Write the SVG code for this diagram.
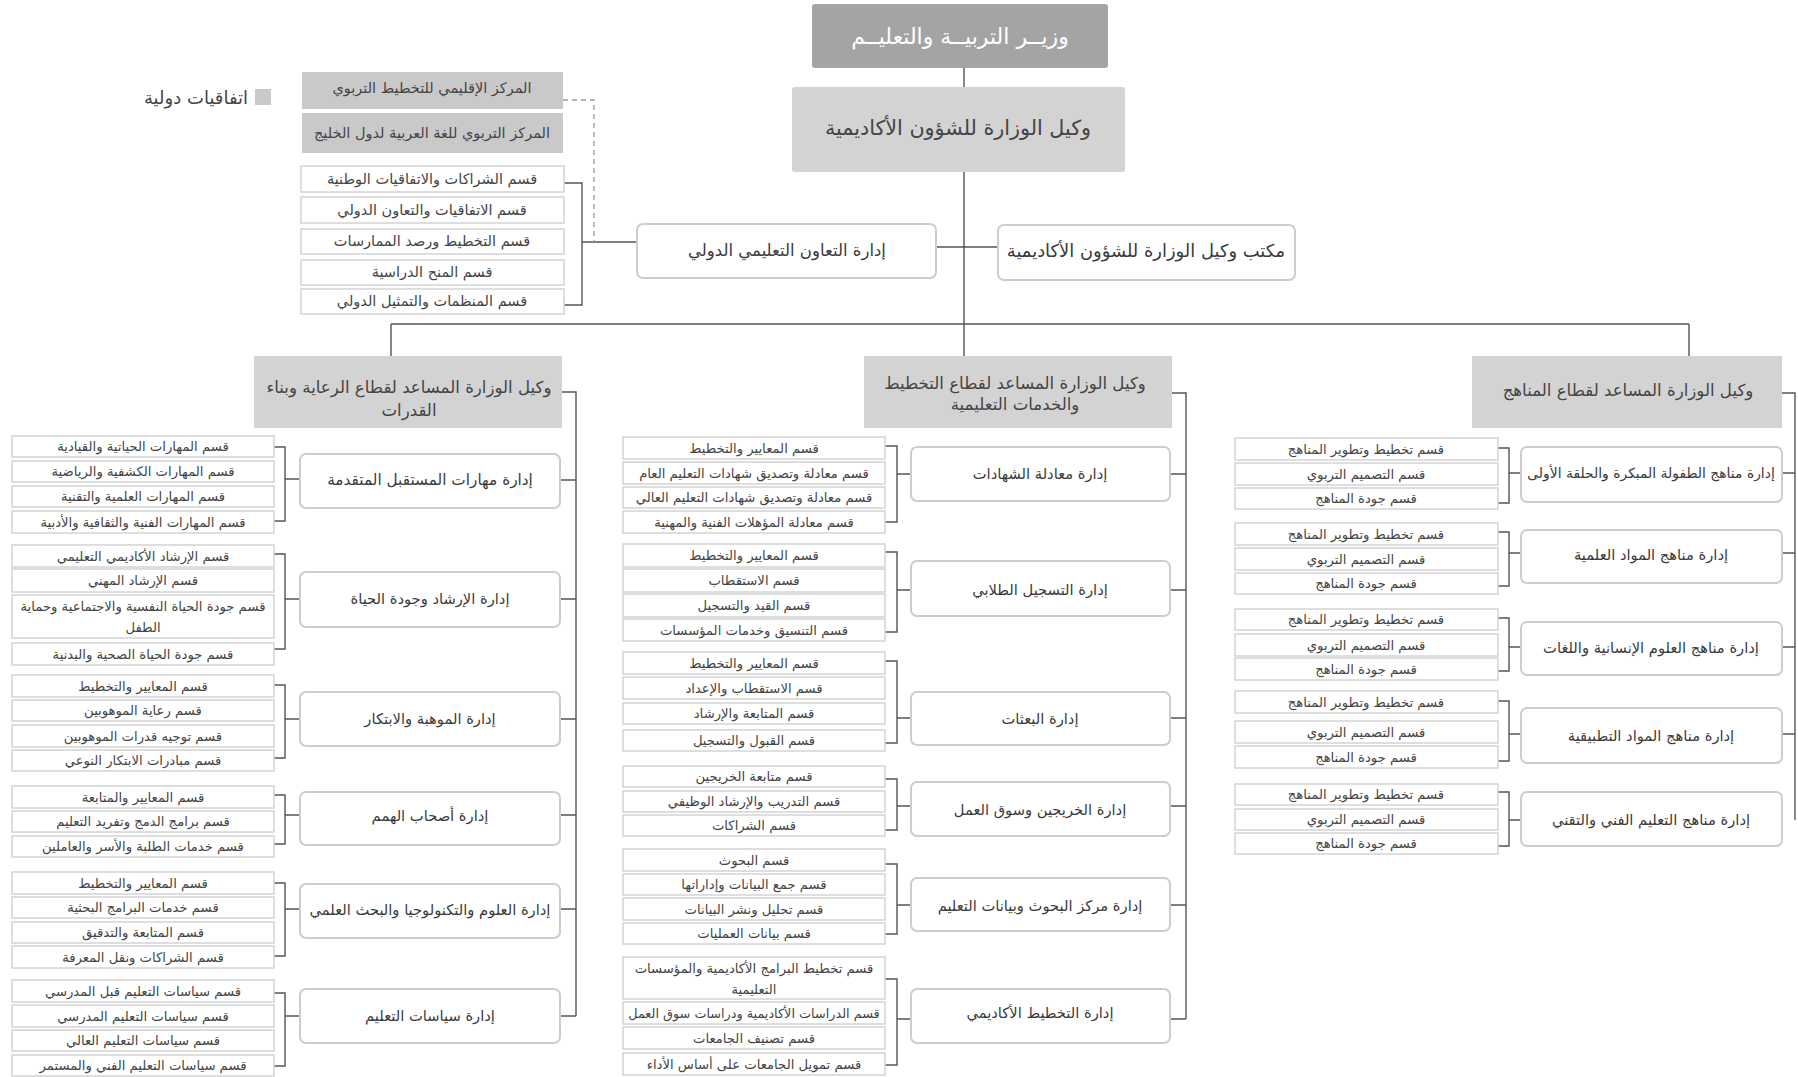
<svg xmlns="http://www.w3.org/2000/svg" width="1798" height="1077" viewBox="0 0 1798 1077">
<style>
text{font-family:"DejaVu Sans","Noto Sans",sans-serif;text-anchor:middle;dominant-baseline:central;direction:rtl}
.sec rect{fill:#fff;stroke:#d4d4d4;stroke-width:1.5}
.sec text{font-size:13.2px;fill:#444}
.coop text{font-size:14.5px}
.dir rect{fill:#fff;stroke:#cdcdcd;stroke-width:2}
.dir text{font-size:14.7px;fill:#3a3a3a}
.mid text{font-size:16.5px;fill:#3a3a3a}
.sect rect{fill:#d3d3d3}
.sect text{font-size:16.6px;fill:#444}
.intl rect{fill:#c9c9c9}
.intl text{font-size:14.5px;fill:#444}
.conn{fill:none;stroke:#555;stroke-width:1.4}
.dash{fill:none;stroke:#9a9a9a;stroke-width:1.3;stroke-dasharray:5 4}
</style>

<g id="connectors">
<path class="conn" d="M964 68V87M964 172V356M391 324H1689M391 324V356M1689 324V356M936 247H998M637 242H582M564 183H582V305H564"/>
<path class="dash" d="M563 100H594V242"/>
<path class="conn" d="M562 392H576V1016M560 480H576M560 599H576M560 719H576M560 815H576M560 909H576M560 1016H576
M274 447H285V521H274M285 479H300
M274 554H285V649H274M285 599H300
M274 685H285V758H274M285 719H300
M274 795H285V844H274M285 815H300
M274 883H285V956H274M285 909H300
M274 993H285V1066H274M285 1016H300"/>
<path class="conn" d="M1172 393H1186V1019M1170 474H1186M1170 590H1186M1170 718H1186M1170 806H1186M1170 905H1186M1170 1019H1186
M885 446H897V522H885M897 474H911
M885 552H897V632H885M897 590H911
M885 661H897V743H885M897 718H911
M885 779H897V830H885M897 806H911
M885 864H897V934H885M897 905H911
M885 979H897V1065H885M897 1019H911"/>
<path class="conn" d="M1782 393H1795V820M1782 473H1795M1782 553H1795M1782 647H1795M1782 734H1795
M1498 448H1509V503H1498M1509 473H1521
M1498 532H1509V586H1498M1509 553H1521
M1498 618H1509V671H1498M1509 647H1521
M1498 701H1509V761H1498M1509 734H1521
M1498 792H1509V846H1498M1509 820H1521"/>
</g>

<g id="minister"><rect x="812" y="4" width="296" height="64" rx="3" fill="#a4a4a4"/><text x="960" y="36" font-size="22" fill="#fff">وزيــر التربيــة والتعليــم</text></g>
<g id="deputy"><rect x="792" y="87" width="333" height="85" rx="3" fill="#d3d3d3"/><text x="958" y="128" font-size="20.7" fill="#444">وكيل الوزارة للشؤون الأكاديمية</text></g>
<g id="intl-coop" class="dir mid"><rect x="637" y="224" width="299" height="54" rx="6"/><text x="787" y="250" style="font-size:16.5px">إدارة التعاون التعليمي الدولي</text></g>
<g id="office" class="dir mid"><rect x="998" y="225" width="297" height="55" rx="6"/><text x="1146" y="250" style="font-size:17.9px">مكتب وكيل الوزارة للشؤون الأكاديمية</text></g>

<g id="legend"><rect x="255" y="89" width="16" height="16" fill="#c9c9c9"/><text x="196" y="97" font-size="18" fill="#444">اتفاقيات دولية</text></g>
<g id="intl1" class="intl"><rect x="302" y="72" width="261" height="37"/><text x="432" y="88">المركز الإقليمي للتخطيط التربوي</text></g>
<g id="intl2" class="intl"><rect x="302" y="113" width="261" height="40"/><text x="432" y="133">المركز التربوي للغة العربية لدول الخليج</text></g>

<g class="sec coop">
<g id="c1"><rect x="301" y="166" width="263" height="26"/><text x="432" y="179">قسم الشراكات والاتفاقيات الوطنية</text></g>
<g id="c2"><rect x="301" y="197" width="263" height="26"/><text x="432" y="210">قسم الاتفاقيات والتعاون الدولي</text></g>
<g id="c3"><rect x="301" y="229" width="263" height="25"/><text x="432" y="241">قسم التخطيط ورصد الممارسات</text></g>
<g id="c4"><rect x="301" y="260" width="263" height="25"/><text x="432" y="272">قسم المنح الدراسية</text></g>
<g id="c5"><rect x="301" y="289" width="263" height="25"/><text x="432" y="301">قسم المنظمات والتمثيل الدولي</text></g>
</g>

<g id="sector-care" class="sect"><rect x="254" y="356" width="308" height="72"/><text x="409" y="387">وكيل الوزارة المساعد لقطاع الرعاية وبناء</text><text x="409" y="410">القدرات</text></g>
<g id="sector-plan" class="sect"><rect x="864" y="356" width="308" height="72"/><text x="1015" y="383">وكيل الوزارة المساعد لقطاع التخطيط</text><text x="1015" y="404">والخدمات التعليمية</text></g>
<g id="sector-curr" class="sect"><rect x="1472" y="356" width="310" height="72"/><text x="1628" y="390">وكيل الوزارة المساعد لقطاع المناهج</text></g>

<g class="dir">
<g id="L1"><rect x="300" y="454" width="260" height="54" rx="6"/><text x="430" y="480" style="font-size:15.3px">إدارة مهارات المستقبل المتقدمة</text></g>
<g id="L2"><rect x="300" y="572" width="260" height="55" rx="6"/><text x="430" y="598">إدارة الإرشاد وجودة الحياة</text></g>
<g id="L3"><rect x="300" y="692" width="260" height="54" rx="6"/><text x="430" y="718">إدارة الموهبة والابتكار</text></g>
<g id="L4"><rect x="300" y="792" width="260" height="53" rx="6"/><text x="430" y="815">إدارة أصحاب الهمم</text></g>
<g id="L5"><rect x="300" y="884" width="260" height="54" rx="6"/><text x="430" y="909">إدارة العلوم والتكنولوجيا والبحث العلمي</text></g>
<g id="L6"><rect x="300" y="989" width="260" height="54" rx="6"/><text x="430" y="1015">إدارة سياسات التعليم</text></g>
</g>
<g class="sec">
<g id="L1a"><rect x="12" y="436" width="262" height="21"/><text x="143" y="446">قسم المهارات الحياتية والقيادية</text></g>
<g id="L1b"><rect x="12" y="461" width="262" height="21"/><text x="143" y="471">قسم المهارات الكشفية والرياضية</text></g>
<g id="L1c"><rect x="12" y="486" width="262" height="21"/><text x="143" y="496">قسم المهارات  العلمية والتقنية</text></g>
<g id="L1d"><rect x="12" y="511" width="262" height="22"/><text x="143" y="522">قسم المهارات الفنية والثقافية والأدبية</text></g>
<g id="L2a"><rect x="12" y="545" width="262" height="22"/><text x="143" y="556">قسم الإرشاد الأكاديمي التعليمي</text></g>
<g id="L2b"><rect x="12" y="569" width="262" height="23"/><text x="143" y="580">قسم الإرشاد المهني</text></g>
<g id="L2c"><rect x="12" y="595" width="262" height="43"/><text x="143" y="606">قسم جودة الحياة النفسية والاجتماعية وحماية</text><text x="143" y="627">الطفل</text></g>
<g id="L2d"><rect x="12" y="643" width="262" height="22"/><text x="143" y="654">قسم جودة الحياة الصحية والبدنية</text></g>
<g id="L3a"><rect x="12" y="675" width="262" height="22"/><text x="143" y="686">قسم المعايير والتخطيط</text></g>
<g id="L3b"><rect x="12" y="700" width="262" height="21"/><text x="143" y="710">قسم رعاية الموهوبين</text></g>
<g id="L3c"><rect x="12" y="725" width="262" height="22"/><text x="143" y="736">قسم توجيه قدرات الموهوبين</text></g>
<g id="L3d"><rect x="12" y="750" width="262" height="21"/><text x="143" y="760">قسم مبادرات الابتكار النوعي</text></g>
<g id="L4a"><rect x="12" y="786" width="262" height="22"/><text x="143" y="797">قسم المعايير والمتابعة</text></g>
<g id="L4b"><rect x="12" y="811" width="262" height="21"/><text x="143" y="821">قسم برامج الدمج وتفريد التعليم</text></g>
<g id="L4c"><rect x="12" y="836" width="262" height="21"/><text x="143" y="846">قسم خدمات الطلبة والأسر والعاملين</text></g>
<g id="L5a"><rect x="12" y="872" width="262" height="22"/><text x="143" y="883">قسم المعايير والتخطيط</text></g>
<g id="L5b"><rect x="12" y="897" width="262" height="21"/><text x="143" y="907">قسم خدمات البرامج البحثية</text></g>
<g id="L5c"><rect x="12" y="922" width="262" height="21"/><text x="143" y="932">قسم المتابعة والتدقيق</text></g>
<g id="L5d"><rect x="12" y="946" width="262" height="22"/><text x="143" y="957">قسم الشراكات ونقل المعرفة</text></g>
<g id="L6a"><rect x="12" y="980" width="262" height="22"/><text x="143" y="991">قسم سياسات التعليم قبل المدرسي</text></g>
<g id="L6b"><rect x="12" y="1005" width="262" height="22"/><text x="143" y="1016">قسم سياسات التعليم المدرسي</text></g>
<g id="L6c"><rect x="12" y="1030" width="262" height="21"/><text x="143" y="1040">قسم سياسات التعليم العالي</text></g>
<g id="L6d"><rect x="12" y="1055" width="262" height="21"/><text x="143" y="1065">قسم سياسات التعليم الفني والمستمر</text></g>
</g>

<g class="dir">
<g id="M1"><rect x="911" y="447" width="259" height="54" rx="6"/><text x="1040" y="473">إدارة معادلة الشهادات</text></g>
<g id="M2"><rect x="911" y="561" width="259" height="55" rx="6"/><text x="1040" y="589">إدارة التسجيل الطلابي</text></g>
<g id="M3"><rect x="911" y="692" width="259" height="53" rx="6"/><text x="1040" y="718">إدارة البعثات</text></g>
<g id="M4"><rect x="911" y="782" width="259" height="54" rx="6"/><text x="1040" y="809">إدارة الخريجين وسوق العمل</text></g>
<g id="M5"><rect x="911" y="878" width="259" height="53" rx="6"/><text x="1040" y="905">إدارة مركز البحوث وبيانات التعليم</text></g>
<g id="M6"><rect x="911" y="989" width="259" height="54" rx="6"/><text x="1040" y="1012">إدارة التخطيط الأكاديمي</text></g>
</g>
<g class="sec">
<g id="M1a"><rect x="623" y="437" width="262" height="22"/><text x="754" y="448">قسم المعايير والتخطيط</text></g>
<g id="M1b"><rect x="623" y="462" width="262" height="22"/><text x="754" y="473">قسم معادلة وتصديق شهادات التعليم العام</text></g>
<g id="M1c"><rect x="623" y="487" width="262" height="21"/><text x="754" y="497">قسم معادلة وتصديق شهادات التعليم العالي</text></g>
<g id="M1d"><rect x="623" y="511" width="262" height="22"/><text x="754" y="522">قسم معادلة  المؤهلات الفنية والمهنية</text></g>
<g id="M2a"><rect x="623" y="544" width="262" height="23"/><text x="754" y="555">قسم المعايير والتخطيط</text></g>
<g id="M2b"><rect x="623" y="569" width="262" height="23"/><text x="754" y="580">قسم الاستقطاب</text></g>
<g id="M2c"><rect x="623" y="594" width="262" height="23"/><text x="754" y="605">قسم القيد والتسجيل</text></g>
<g id="M2d"><rect x="623" y="619" width="262" height="22"/><text x="754" y="630">قسم التنسيق وخدمات المؤسسات</text></g>
<g id="M3a"><rect x="623" y="652" width="262" height="22"/><text x="754" y="663">قسم المعايير والتخطيط</text></g>
<g id="M3b"><rect x="623" y="677" width="262" height="22"/><text x="754" y="688">قسم الاستقطاب والإعداد</text></g>
<g id="M3c"><rect x="623" y="703" width="262" height="21"/><text x="754" y="713">قسم المتابعة والإرشاد</text></g>
<g id="M3d"><rect x="623" y="730" width="262" height="21"/><text x="754" y="740">قسم القبول والتسجيل</text></g>
<g id="M4a"><rect x="623" y="766" width="262" height="21"/><text x="754" y="776">قسم متابعة الخريجين</text></g>
<g id="M4b"><rect x="623" y="791" width="262" height="21"/><text x="754" y="801">قسم التدريب والإرشاد الوظيفي</text></g>
<g id="M4c"><rect x="623" y="815" width="262" height="21"/><text x="754" y="825">قسم الشراكات</text></g>
<g id="M5a"><rect x="623" y="849" width="262" height="22"/><text x="754" y="860">قسم البحوث</text></g>
<g id="M5b"><rect x="623" y="874" width="262" height="21"/><text x="754" y="884">قسم جمع البيانات وإداراتها</text></g>
<g id="M5c"><rect x="623" y="898" width="262" height="22"/><text x="754" y="909">قسم تحليل ونشر البيانات</text></g>
<g id="M5d"><rect x="623" y="923" width="262" height="21"/><text x="754" y="933">قسم بيانات العمليات</text></g>
<g id="M6a"><rect x="623" y="957" width="262" height="42"/><text x="754" y="968">قسم تخطيط البرامج الأكاديمية والمؤسسات</text><text x="754" y="989">التعليمية</text></g>
<g id="M6b"><rect x="623" y="1002" width="262" height="22"/><text x="754" y="1013" style="font-size:12.8px">قسم الدراسات الأكاديمية ودراسات سوق العمل</text></g>
<g id="M6c"><rect x="623" y="1027" width="262" height="22"/><text x="754" y="1038">قسم تصنيف الجامعات</text></g>
<g id="M6d"><rect x="623" y="1053" width="262" height="22"/><text x="754" y="1064">قسم تمويل الجامعات على أساس الأداء</text></g>
</g>

<g class="dir">
<g id="R1"><rect x="1521" y="447" width="261" height="55" rx="6"/><text x="1651" y="473" style="font-size:13.9px">إدارة مناهج الطفولة المبكرة والحلقة الأولى</text></g>
<g id="R2"><rect x="1521" y="530" width="261" height="53" rx="6"/><text x="1651" y="554">إدارة مناهج المواد العلمية</text></g>
<g id="R3"><rect x="1521" y="622" width="261" height="53" rx="6"/><text x="1651" y="647">إدارة مناهج العلوم الإنسانية واللغات</text></g>
<g id="R4"><rect x="1521" y="708" width="261" height="55" rx="6"/><text x="1651" y="735">إدارة مناهج المواد التطبيقية</text></g>
<g id="R5"><rect x="1521" y="792" width="261" height="54" rx="6"/><text x="1651" y="819">إدارة مناهج التعليم الفني والتقني</text></g>
</g>
<g class="sec">
<g id="R1a"><rect x="1235" y="438" width="263" height="22"/><text x="1366" y="449">قسم تخطيط وتطوير المناهج</text></g>
<g id="R1b"><rect x="1235" y="463" width="263" height="22"/><text x="1366" y="474">قسم التصميم التربوي</text></g>
<g id="R1c"><rect x="1235" y="488" width="263" height="21"/><text x="1366" y="498">قسم جودة المناهج</text></g>
<g id="R2a"><rect x="1235" y="523" width="263" height="22"/><text x="1366" y="534">قسم تخطيط وتطوير المناهج</text></g>
<g id="R2b"><rect x="1235" y="548" width="263" height="22"/><text x="1366" y="559">قسم التصميم التربوي</text></g>
<g id="R2c"><rect x="1235" y="573" width="263" height="21"/><text x="1366" y="583">قسم جودة المناهج</text></g>
<g id="R3a"><rect x="1235" y="609" width="263" height="21"/><text x="1366" y="619">قسم تخطيط وتطوير المناهج</text></g>
<g id="R3b"><rect x="1235" y="634" width="263" height="22"/><text x="1366" y="645">قسم التصميم التربوي</text></g>
<g id="R3c"><rect x="1235" y="658" width="263" height="22"/><text x="1366" y="669">قسم جودة المناهج</text></g>
<g id="R4a"><rect x="1235" y="691" width="263" height="22"/><text x="1366" y="702">قسم تخطيط وتطوير المناهج</text></g>
<g id="R4b"><rect x="1235" y="721" width="263" height="22"/><text x="1366" y="732">قسم التصميم التربوي</text></g>
<g id="R4c"><rect x="1235" y="746" width="263" height="22"/><text x="1366" y="757">قسم جودة المناهج</text></g>
<g id="R5a"><rect x="1235" y="784" width="263" height="21"/><text x="1366" y="794">قسم تخطيط وتطوير المناهج</text></g>
<g id="R5b"><rect x="1235" y="809" width="263" height="21"/><text x="1366" y="819">قسم التصميم التربوي</text></g>
<g id="R5c"><rect x="1235" y="833" width="263" height="21"/><text x="1366" y="843">قسم جودة المناهج</text></g>
</g>
</svg>
